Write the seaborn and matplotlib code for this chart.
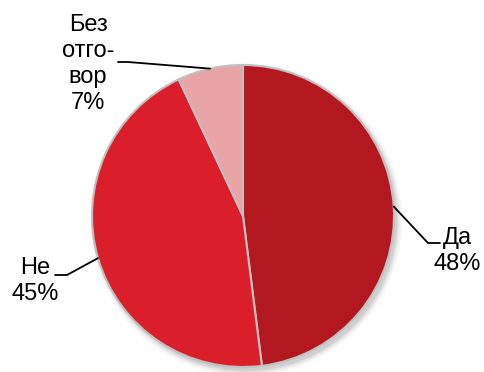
import numpy as np
import matplotlib.pyplot as plt
import seaborn as sns
from matplotlib.patches import Circle

labels = ['Да', 'Не', 'Без\nотго-\nвор']
values = [48, 45, 7]
colors = ['#b31820', '#da1f2a', '#e8a4a6']

sns.set_theme(style="white")
plt.rcParams['font.family'] = ['Liberation Sans', 'DejaVu Sans']
plt.rcParams['text.color'] = 'black'

fig = plt.figure(figsize=(4.84, 3.72), dpi=100)
ax = fig.add_axes([0, 0, 1, 1])

# pixel -> data helper (pie centre at 243,216 px, radius 151 px)
cx, cy, R = 243, 216, 151
def px(x, y):
    return (x - cx) / R, (cy - y) / R

# soft shadow
for i, a in enumerate(np.linspace(0.05, 0.012, 6)):
    ax.add_patch(Circle((0.02, -0.025), 1.0 + 0.008 * i, color='black',
                        alpha=a, lw=0, zorder=0))

wedges, _ = ax.pie(values, colors=colors, startangle=90, counterclock=False,
                   radius=1.0, center=(0, 0), frame=True,
                   wedgeprops={'edgecolor': '#c0c0c0', 'linewidth': 1.5})
ax.set_xlim(-cx / R, (484 - cx) / R)
ax.set_ylim(-(372 - cy) / R, cy / R)
ax.set_aspect('auto')
ax.axis('off')

mid = [np.deg2rad((w.theta1 + w.theta2) / 2) for w in wedges]
anchor = [(np.cos(t), np.sin(t)) for t in mid]

fs = 17
ls = 1.23
# Да
e1, s1 = px(428, 243), px(440, 243)
ax.plot([anchor[0][0], e1[0], s1[0]], [anchor[0][1], e1[1], s1[1]],
        color='black', lw=1.3)
t = px(457, 251)
ax.text(t[0], t[1], f'{labels[0]}\n{values[0]}%', fontsize=fs, ha='center',
        va='center', linespacing=ls)

# Не
e2, s2 = px(67, 275), px(55, 275)
ax.plot([anchor[1][0], e2[0], s2[0]], [anchor[1][1], e2[1], s2[1]],
        color='black', lw=1.3)
t = px(35, 281)
ax.text(t[0], t[1], f'{labels[1]}\n{values[1]}%', fontsize=fs, ha='center',
        va='center', linespacing=ls)

# Без отговор
e3, s3 = px(128, 62), px(118, 62)
ax.plot([anchor[2][0], e3[0], s3[0]], [anchor[2][1], e3[1], s3[1]],
        color='black', lw=1.3)
t = px(88, 64)
ax.text(t[0], t[1], f'{labels[2]}\n{values[2]}%', fontsize=fs, ha='center',
        va='center', linespacing=ls)

fig.savefig('out.png', dpi=100)
